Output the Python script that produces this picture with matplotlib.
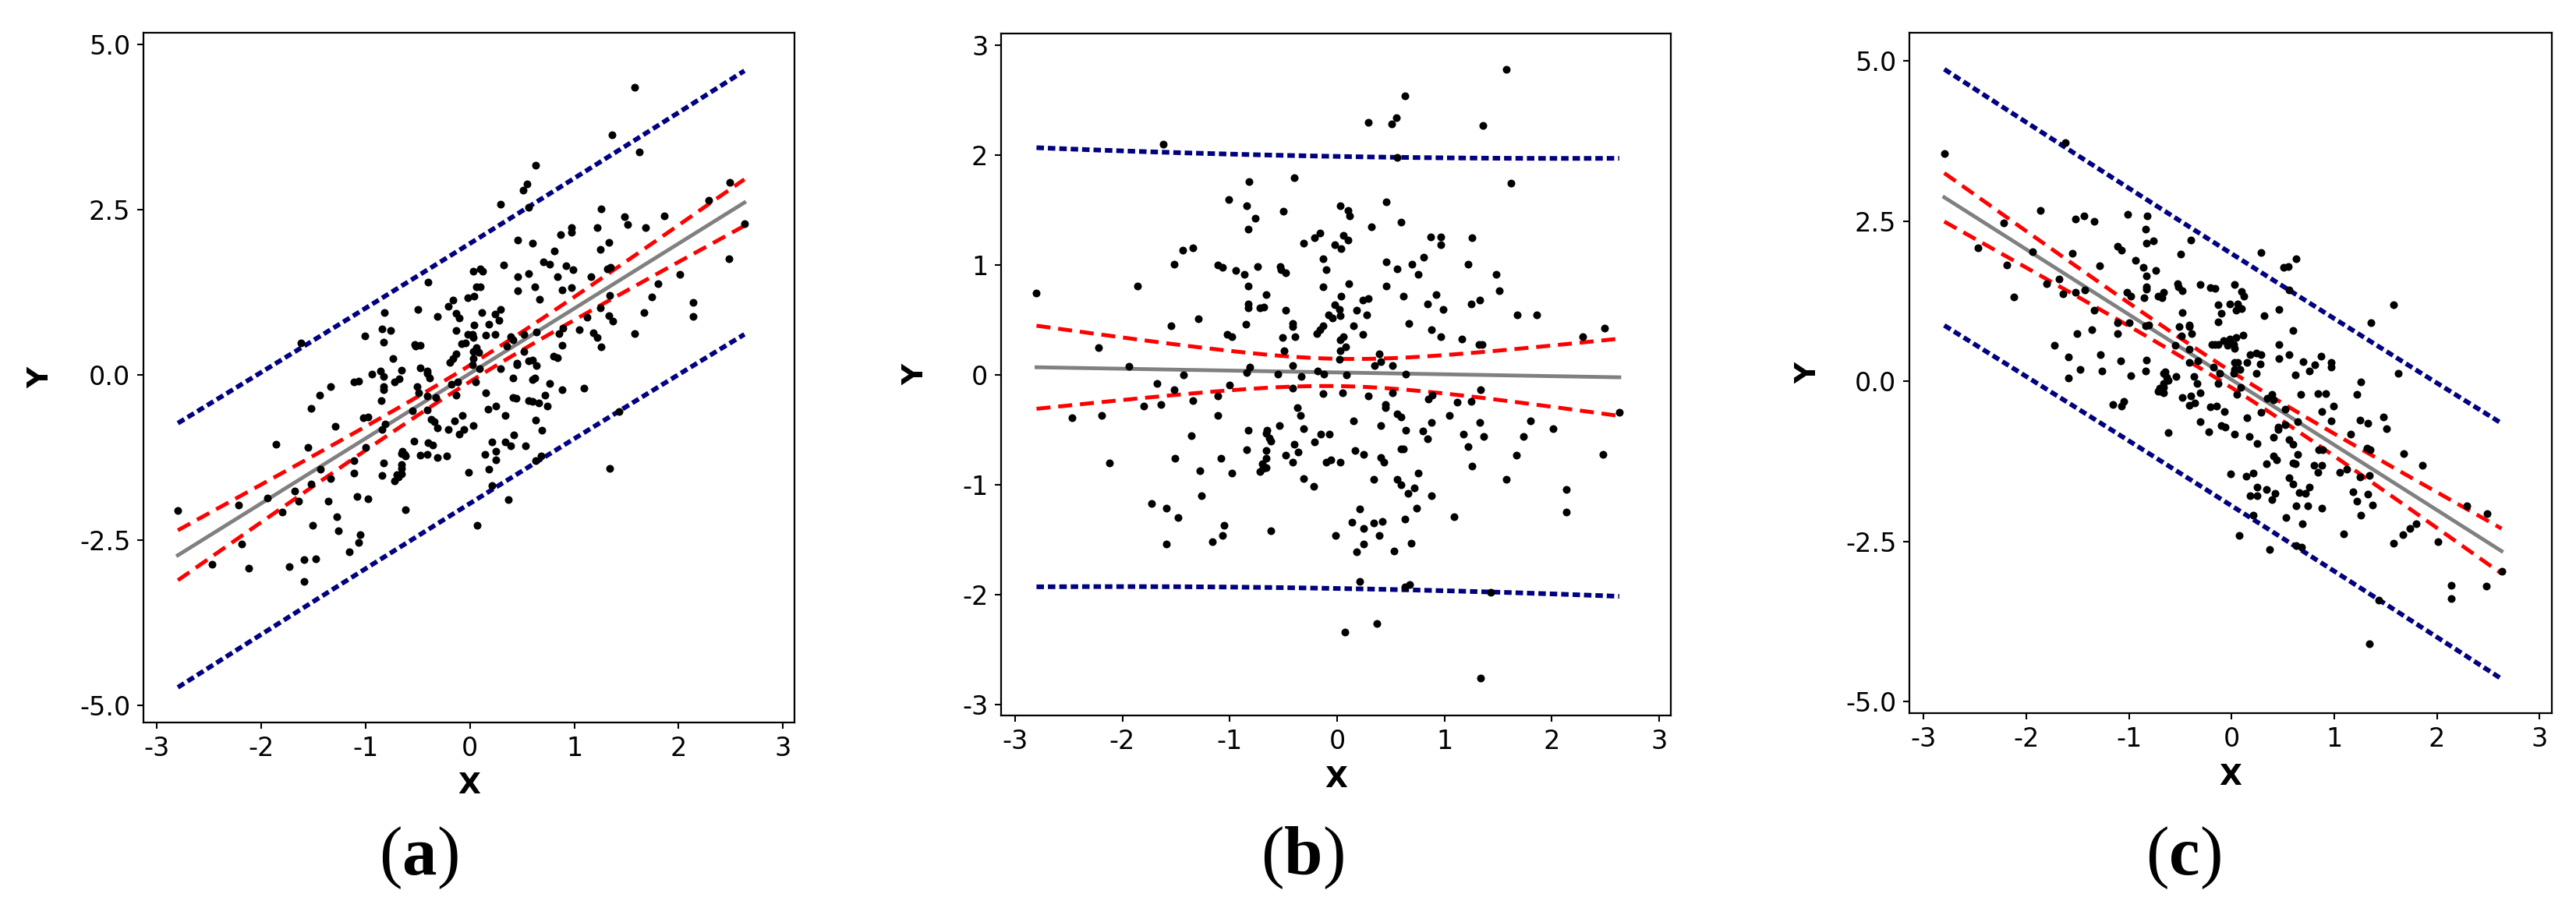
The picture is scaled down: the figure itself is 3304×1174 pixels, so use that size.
import numpy as np
import matplotlib
matplotlib.use('Agg')
import matplotlib.pyplot as plt

plt.rcParams['font.family'] = ['DejaVu Sans']
plt.rcParams['axes.unicode_minus'] = False
plt.rcParams['mathtext.fontset'] = 'custom'
plt.rcParams['mathtext.rm'] = 'Liberation Serif'
plt.rcParams['mathtext.bf'] = 'Liberation Serif:bold'

# x values (shared by all three panels)
x_vals = [
    -2.80, -1.62, -1.86, -2.22, -1.94, -1.52, -1.44, -1.34, -1.55, -1.29,
    -1.43, -1.01, -0.82, -0.84, -0.76, -0.83, -1.11, -1.07, -0.94, -0.86,
    -0.74, -0.83, -0.66, -0.83, -0.83, -0.72, -0.68, -0.85, -1.02, -0.98,
    -0.84, -0.81, -0.40, -0.50, -0.31, -0.21, -0.16, -0.13, -0.10, -0.53,
    -0.52, -0.48, -0.13, -0.48, -0.41, -0.41, -0.51, -0.39, -0.49, -0.19,
    -0.16, -0.13, -0.08, -0.41, -0.55, -0.33, -0.18, -0.12,
    1.58, 0.63, 0.29, 0.51, 0.55, 1.36, 0.56, 1.62, 0.46, 0.03,
    0.10, 0.12, 0.60, 0.32, 0.06, 0.10, -0.02, 0.04, 0.87, 0.97,
    0.97, 1.26, 0.46, 0.56, 0.70, 0.76, 0.81, 1.22, 1.48, 1.51,
    0.11, 0.46, 0.04, 0.24, 0.29, 0.62, 0.92, 0.84, 0.99, 1.25,
    1.33, -0.02, 0.02, 0.03, -0.04, 0.18, 0.28, 1.68, 1.86, 0.15,
    0.67, 0.24, 0.88, 0.97, 1.16, 1.32, 1.35, 2.29, 2.49, 0.03,
    0.06, 0.03, 0.08, 0.02, 0.39, 0.35, 0.41, 0.52, 0.09, 0.64,
    -1.68, -1.00, -1.52, -0.41, -0.13, -1.11, -1.34, -1.80, -1.64, -2.47,
    -2.19, -1.11, -0.37, -0.34, -0.54, -0.83, -0.65, -0.66, -0.63, -0.62,
    -0.31, -1.36, -0.15, -0.07, -0.21, -0.40, -0.84, -0.66, -0.36, -0.48,
    -0.41, -0.66, -0.10, -0.06, -2.12, -1.51, -1.08, -1.28, -0.98, -0.70,
    -0.66, -0.69, -0.72, -0.31, -0.22, -1.26, -1.73, -1.59, -1.48, -1.05,
    -1.07, -1.16, -1.59, -0.62,
    0.05, 0.29, 0.52, 0.45, 0.45, 0.15, 0.41, 0.56, 0.60, 0.64,
    0.85, 0.89, 0.88, 0.80, 0.84, 1.05, 1.12, 1.25, 1.34, 1.33,
    1.37, 1.18, 1.22, 1.26, 1.80, 1.74, 2.01, 2.63, 1.67, 2.48,
    1.58, 2.14, 2.14, 0.17, 0.25, 0.03, 0.41, 0.44, 0.60, 0.62,
    0.34, 0.56, 0.60, 0.66, 0.72, 0.76, 0.88, 0.74, 0.21, 0.14,
    0.25, 0.34, 0.42, 0.63, 1.09, -0.01, 0.39, 0.25, 0.18, 0.53,
    0.69, 0.21, 0.63, 0.68, 1.43, 0.37, 0.07, 1.34,
]

# panel (a): positive slope
y_a = [
    -2.05, 0.48, -1.05, -1.97, -1.86, -0.51, -0.30, -0.18, -1.10, -0.78,
    -1.43, 0.59, 0.94, 0.70, 0.67, 0.50, -0.11, -0.09, 0.01, 0.06,
    0.25, -0.02, 0.07, -0.18, -0.22, -0.11, -0.06, -0.39, -0.65, -0.63,
    -0.82, -0.74, 1.40, 0.99, 0.89, 1.04, 1.13, 0.93, 0.86, 0.46,
    0.44, 0.45, 0.67, 0.11, 0.06, 0.03, -0.17, -0.04, -0.27, 0.19,
    0.25, 0.32, 0.47, -0.32, -0.54, -0.34, -0.14, -0.11,
    4.36, 3.17, 2.59, 2.80, 2.89, 3.63, 2.54, 3.37, 2.04, 1.57,
    1.60, 1.57, 1.99, 1.67, 1.33, 1.33, 1.17, 1.19, 2.13, 2.23,
    2.16, 2.51, 1.49, 1.53, 1.71, 1.68, 1.88, 2.23, 2.40, 2.28,
    0.94, 1.27, 0.76, 0.92, 0.99, 1.34, 1.65, 1.49, 1.59, 1.90,
    2.01, 0.62, 0.62, 0.57, 0.48, 0.77, 0.83, 2.23, 2.41, 0.60,
    1.14, 0.61, 1.29, 1.32, 1.49, 1.60, 1.63, 2.64, 2.92, 0.35,
    0.41, 0.25, 0.34, 0.16, 0.58, 0.44, 0.53, 0.61, 0.09, 0.65,
    -1.76, -1.09, -1.65, -0.53, -0.30, -1.30, -1.57, -2.08, -1.91, -2.86,
    -2.56, -1.48, -0.67, -0.71, -1.00, -1.33, -1.15, -1.19, -1.20, -1.22,
    -0.80, -1.91, -0.69, -0.61, -0.82, -1.03, -1.52, -1.35, -1.06, -1.21,
    -1.20, -1.42, -0.89, -0.83, -2.92, -2.27, -1.84, -2.15, -1.87, -1.51,
    -1.50, -1.54, -1.60, -1.25, -1.23, -2.36, -2.90, -2.80, -2.78, -2.42,
    -2.53, -2.68, -3.13, -2.04,
    -0.11, 0.10, 0.36, 0.18, 0.15, -0.27, -0.05, 0.21, 0.22, 0.14,
    0.63, 0.71, 0.45, 0.29, 0.26, 0.68, 0.87, 1.01, 1.21, 0.90,
    0.81, 0.64, 0.57, 0.43, 1.38, 1.18, 1.52, 2.29, 0.94, 1.76,
    0.63, 1.10, 0.89, -0.52, -0.47, -0.76, -0.34, -0.35, -0.07, -0.05,
    -0.61, -0.39, -0.40, -0.42, -0.31, -0.13, -0.22, -0.47, -1.01, -1.20,
    -1.15, -1.01, -0.91, -0.68, -0.20, -1.47, -1.07, -1.29, -1.43, -1.07,
    -0.84, -1.67, -1.30, -1.23, -0.55, -1.89, -2.27, -1.42,
]

# panel (b): no relationship
y_b = [
    0.75, 2.10, 0.81, 0.25, 0.08, 1.01, 1.14, 1.16, 0.45, 0.51,
    0.00, 1.60, 1.76, 1.54, 1.43, 1.33, 1.00, 0.98, 0.95, 0.92,
    0.99, 0.81, 0.73, 0.65, 0.61, 0.61, 0.62, 0.46, 0.37, 0.35,
    0.02, 0.07, 1.80, 1.49, 1.20, 1.25, 1.29, 1.06, 0.96, 0.99,
    0.96, 0.93, 0.80, 0.59, 0.47, 0.44, 0.34, 0.35, 0.22, 0.38,
    0.41, 0.45, 0.55, 0.09, 0.01, -0.01, 0.04, 0.01,
    2.78, 2.54, 2.30, 2.29, 2.34, 2.27, 1.98, 1.75, 1.58, 1.54,
    1.50, 1.45, 1.39, 1.35, 1.27, 1.23, 1.19, 1.15, 1.26, 1.26,
    1.19, 1.25, 1.03, 0.97, 1.01, 0.92, 1.07, 1.01, 0.92, 0.77,
    0.83, 0.81, 0.72, 0.68, 0.70, 0.72, 0.73, 0.65, 0.60, 0.65,
    0.68, 0.64, 0.60, 0.54, 0.52, 0.59, 0.55, 0.55, 0.55, 0.45,
    0.47, 0.37, 0.41, 0.35, 0.33, 0.28, 0.28, 0.35, 0.43, 0.32,
    0.35, 0.22, 0.26, 0.14, 0.19, 0.09, 0.12, 0.09, 0.00, 0.01,
    -0.08, -0.09, -0.13, -0.12, -0.17, -0.19, -0.23, -0.28, -0.27, -0.39,
    -0.37, -0.37, -0.30, -0.37, -0.46, -0.50, -0.50, -0.53, -0.57, -0.60,
    -0.49, -0.55, -0.54, -0.54, -0.61, -0.63, -0.68, -0.69, -0.70, -0.73,
    -0.79, -0.76, -0.79, -0.77, -0.80, -0.76, -0.76, -0.87, -0.89, -0.81,
    -0.84, -0.85, -0.88, -0.94, -1.01, -1.10, -1.17, -1.21, -1.30, -1.37,
    -1.46, -1.52, -1.54, -1.42,
    -0.16, -0.19, -0.16, -0.27, -0.30, -0.42, -0.46, -0.35, -0.38, -0.50,
    -0.22, -0.18, -0.43, -0.51, -0.58, -0.37, -0.25, -0.24, -0.13, -0.43,
    -0.56, -0.54, -0.65, -0.83, -0.42, -0.56, -0.49, -0.34, -0.73, -0.72,
    -0.95, -1.04, -1.25, -0.69, -0.72, -0.79, -0.75, -0.79, -0.67, -0.67,
    -0.95, -0.95, -1.00, -1.08, -1.03, -0.89, -1.10, -1.21, -1.22, -1.34,
    -1.40, -1.35, -1.33, -1.31, -1.29, -1.46, -1.46, -1.54, -1.61, -1.60,
    -1.53, -1.88, -1.93, -1.91, -1.98, -2.26, -2.34, -2.76,
]

# panel (c): negative slope
y_c = [
    3.55, 3.72, 2.67, 2.47, 2.02, 2.53, 2.58, 2.50, 2.00, 1.80,
    1.43, 2.61, 2.58, 2.38, 2.19, 2.16, 2.11, 2.05, 1.89, 1.78,
    1.73, 1.64, 1.39, 1.48, 1.44, 1.33, 1.30, 1.31, 1.39, 1.33,
    0.86, 0.88, 2.20, 1.99, 1.51, 1.46, 1.45, 1.19, 1.06, 1.52,
    1.48, 1.41, 0.93, 1.07, 0.88, 0.85, 0.85, 0.74, 0.71, 0.57,
    0.57, 0.58, 0.63, 0.50, 0.56, 0.32, 0.22, 0.13,
    1.20, 1.91, 2.01, 1.78, 1.79, 0.91, 1.42, 0.13, 1.12, 1.51,
    1.40, 1.33, 0.79, 1.03, 1.21, 1.13, 1.21, 1.11, 0.39, 0.29,
    0.22, -0.01, 0.57, 0.41, 0.31, 0.16, 0.26, -0.21, -0.56, -0.74,
    0.72, 0.35, 0.68, 0.44, 0.41, 0.10, -0.19, -0.19, -0.39, -0.60,
    -0.65, 0.66, 0.58, 0.51, 0.56, 0.41, 0.27, -1.13, -1.31, 0.30,
    -0.20, 0.13, -0.47, -0.62, -0.83, -1.04, -1.07, -1.94, -2.06, 0.29,
    0.29, 0.19, 0.18, 0.12, -0.20, -0.26, -0.29, -0.43, -0.09, -0.63,
    1.60, 0.91, 1.39, 0.29, -0.04, 0.92, 1.11, 1.52, 1.37, 2.08,
    1.82, 0.74, 0.07, -0.03, 0.08, 0.33, 0.15, 0.13, 0.06, 0.02,
    -0.18, 0.81, -0.39, -0.47, -0.40, -0.23, 0.16, -0.03, -0.34, -0.25,
    -0.38, -0.10, -0.69, -0.71, 1.32, 0.75, 0.32, 0.41, 0.09, -0.11,
    -0.18, -0.16, -0.16, -0.63, -0.79, 0.16, 0.56, 0.38, 0.18, -0.32,
    -0.39, -0.36, 0.05, -0.80,
    -0.21, -0.48, -0.68, -0.72, -0.75, -0.57, -0.87, -0.91, -0.98, -1.14,
    -1.07, -1.07, -1.31, -1.31, -1.42, -1.42, -1.37, -1.49, -1.47, -1.76,
    -1.93, -1.72, -1.87, -2.09, -2.22, -2.30, -2.50, -2.97, -2.40, -3.20,
    -2.53, -3.18, -3.39, -0.86, -0.97, -0.82, -1.16, -1.23, -1.27, -1.29,
    -1.29, -1.51, -1.60, -1.74, -1.75, -1.65, -1.98, -1.95, -1.43, -1.48,
    -1.65, -1.69, -1.75, -1.94, -2.38, -1.45, -1.85, -1.79, -1.79, -2.13,
    -2.22, -2.09, -2.56, -2.59, -3.41, -2.63, -2.41, -4.10,
]

x_ticks = [-3, -2, -1, 0, 1, 2, 3]
y_ticks_ac = [-5.0, -2.5, 0.0, 2.5, 5.0]
y_ticks_b = [-3, -2, -1, 0, 1, 2, 3]
panel_names = ['a', 'b', 'c']

W, H = 3305, 1174
fig = plt.figure(figsize=(W / 100, H / 100), dpi=100)

# axes boxes in pixels: left, top, right, bottom
boxes = [(184, 42, 1019, 927), (1284, 43, 2143, 918), (2449, 42, 3273, 915)]
xlims = [(-3.13, 3.11), (-3.13, 3.11), (-3.14, 3.12)]
ylims = [(-5.26, 5.18), (-3.10, 3.11), (-5.18, 5.44)]
ylab_off = [132, 110, 130]
xlab_off = [81, 82, 82]
label_x = [537, 1670, 2800]


def draw_panel(ax, x, y):
    x = np.asarray(x)
    y = np.asarray(y)
    n = len(x)
    slope, intercept = np.polyfit(x, y, 1)
    xs = np.linspace(x.min(), x.max(), 200)
    fit = intercept + slope * xs
    resid = y - (intercept + slope * x)
    s = np.sqrt(np.sum(resid ** 2) / (n - 2))
    sxx = np.sum((x - x.mean()) ** 2)
    t = 1.97
    ci = t * s * np.sqrt(1 / n + (xs - x.mean()) ** 2 / sxx)
    pi = t * s * np.sqrt(1 + 1 / n + (xs - x.mean()) ** 2 / sxx)

    ax.plot(xs, fit, color='#808080', lw=3.5, zorder=2)
    for sign in (1, -1):
        ax.plot(xs, fit + sign * ci, color='#ff0000', lw=3.6,
                dashes=(3.6, 2.0), zorder=3)
        ax.plot(xs, fit + sign * pi, color='#000080', lw=4.3,
                dashes=(1.6, 0.85), zorder=3)
    ax.scatter(x, y, s=52, color='black', linewidths=0, zorder=4)


for i, (ys, name) in enumerate(zip([y_a, y_b, y_c], panel_names)):
    l, t, r, b = boxes[i]
    ax = fig.add_axes([l / W, 1 - b / H, (r - l) / W, (b - t) / H])
    draw_panel(ax, x_vals, ys)
    ax.set_xlim(*xlims[i])
    ax.set_ylim(*ylims[i])
    ax.set_xticks(x_ticks)
    if name == 'b':
        ax.set_yticks(y_ticks_b)
        ax.set_yticklabels([str(v) for v in y_ticks_b])
    else:
        ax.set_yticks(y_ticks_ac)
        ax.set_yticklabels(['%.1f' % v for v in y_ticks_ac])
    ax.tick_params(direction='out', length=6, width=1.5, labelsize=24, pad=6)
    for sp in ax.spines.values():
        sp.set_linewidth(1.6)

    ax.set_xlabel('X', fontsize=27, fontweight='bold', va='center')
    ax.xaxis.set_label_coords(0.5, -xlab_off[i] / (b - t))
    ax.set_ylabel('Y', fontsize=27, fontweight='bold', va='center', ha='center')
    ax.yaxis.set_label_coords(-ylab_off[i] / (r - l), 0.5)

    fig.text(label_x[i] / W, 1 - 1101 / H, '(' + r'$\mathbf{' + name + '}$' + ')',
             family='Liberation Serif', fontsize=64, ha='center', va='center')

fig.savefig('out.png', dpi=100)
